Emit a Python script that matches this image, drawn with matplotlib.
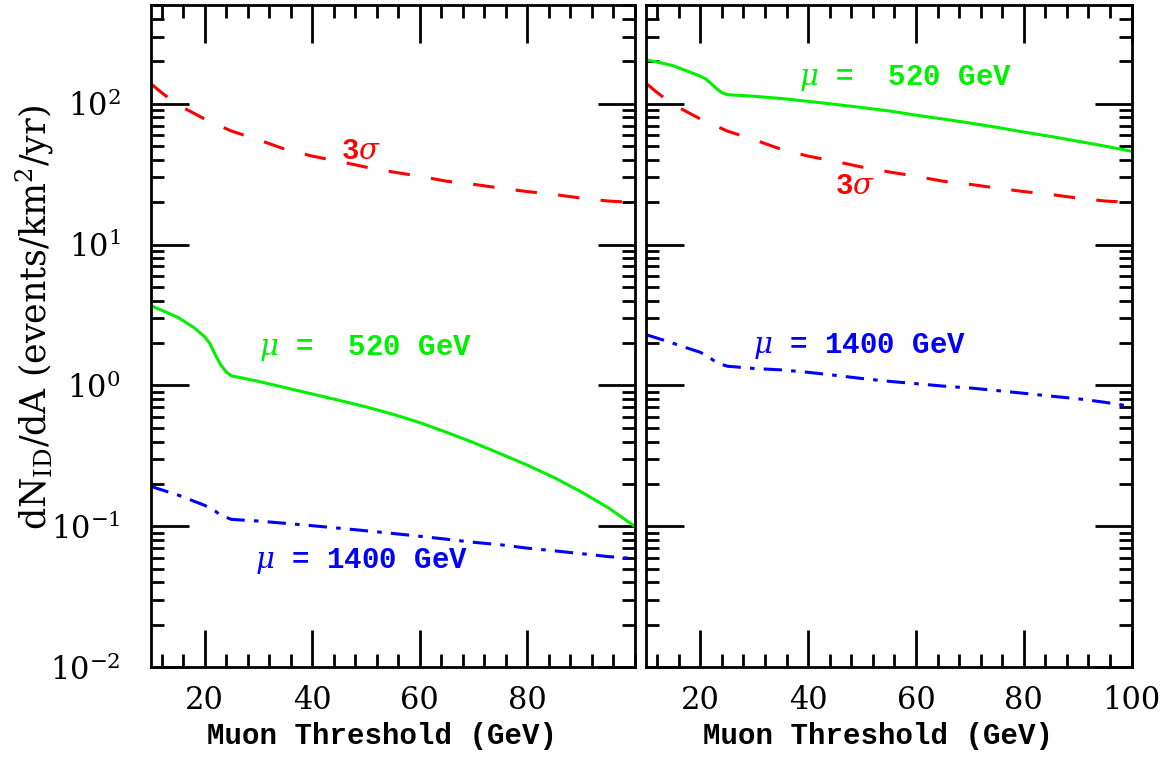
import numpy as np
import matplotlib
matplotlib.use('Agg')
import matplotlib.pyplot as plt
from matplotlib.ticker import MultipleLocator, LogLocator, NullFormatter

plt.rcParams['font.family'] = ['DejaVu Serif']
plt.rcParams['mathtext.fontset'] = 'dejavuserif'
plt.rcParams['mathtext.default'] = 'regular'

# 3 sigma line, same in both panels
x_sig = [10, 12, 14, 16, 20, 25, 30, 35, 40, 45, 50, 55, 60, 65, 70, 75, 80, 85, 90, 95, 100]
sig3 = [139, 120, 105, 94, 78, 64, 55.5, 47.5, 42.5, 39, 35.5, 32.8, 30.6, 28.2, 26.8, 25.2, 23.8, 22.7, 21.4, 20.4, 19.9]

# left panel
x_g = [10, 12, 15, 18, 20, 21, 22, 23, 24, 25, 30, 35, 40, 45, 50, 55, 60, 65, 70, 75, 80, 85, 90, 95, 100]
g520_left = [3.69, 3.42, 3.05, 2.58, 2.22, 1.98, 1.65, 1.4, 1.25, 1.17, 1.07, 0.965, 0.87, 0.785, 0.705, 0.625,
             0.545, 0.465, 0.393, 0.328, 0.272, 0.222, 0.176, 0.136, 0.10]
x_b = [10, 15, 20, 22, 23, 25, 30, 35, 40, 45, 50, 55, 60, 65, 70, 75, 80, 85, 90, 95, 100]
b1400_left = [0.192, 0.167, 0.141, 0.128, 0.120, 0.112, 0.109, 0.105, 0.101, 0.097, 0.093, 0.089,
              0.085, 0.081, 0.077, 0.074, 0.070, 0.067, 0.064, 0.061, 0.059]

# right panel
g520_right = [205, 198, 186, 168, 157, 150, 139, 128, 120, 116, 113, 109, 104, 99, 94, 89, 83, 78,
              73, 68, 63, 58.6, 54.2, 50.1, 46]
x_b2 = [10, 14, 18, 20, 22, 23, 25, 30, 35, 40, 45, 50, 55, 60, 65, 70, 75, 80, 85, 90, 95, 100]
b1400_right = [2.29, 2.05, 1.82, 1.72, 1.55, 1.45, 1.37, 1.32, 1.29, 1.24, 1.18, 1.12, 1.07, 1.03,
               0.99, 0.96, 0.92, 0.88, 0.84, 0.805, 0.76, 0.71]

RED = '#ff0000'
GREEN = '#00f000'
BLUE = '#0000ff'
lw = 2.2
dash = (0, (7, 7))
dashdot = (0, (6, 3, 1.5, 3))

fig = plt.figure(figsize=(11.69, 7.59), dpi=100)
ax1 = fig.add_axes([0.129, 0.121, 0.414, 0.872])
ax2 = fig.add_axes([0.553, 0.121, 0.415, 0.872], sharey=ax1)

ax1.plot(x_sig, sig3, color=RED, lw=lw, linestyle=dash)
ax1.plot(x_g, g520_left, color=GREEN, lw=lw)
ax1.plot(x_b, b1400_left, color=BLUE, lw=lw, linestyle=dashdot)

ax2.plot(x_sig, sig3, color=RED, lw=lw, linestyle=dash)
ax2.plot(x_g, g520_right, color=GREEN, lw=lw)
ax2.plot(x_b2, b1400_right, color=BLUE, lw=lw, linestyle=dashdot)

mono = ['Liberation Mono', 'DejaVu Sans Mono']
lab = dict(family=mono, fontweight='bold', fontsize=21, ha='center', va='center')
ax1.text(49, 46, r'3$\mathit{\sigma}$', color=RED, **lab)
ax1.text(50, 1.83, r'$\mathit{\mu}$ =  520 GeV', color=GREEN, **lab)
ax1.text(49.2, 0.057, r'$\mathit{\mu}$ = 1400 GeV', color=BLUE, **lab)
ax2.text(48.6, 26, r'3$\mathit{\sigma}$', color=RED, **lab)
ax2.text(58, 153, r'$\mathit{\mu}$ =  520 GeV', color=GREEN, **lab)
ax2.text(49.5, 1.92, r'$\mathit{\mu}$ = 1400 GeV', color=BLUE, **lab)

for ax in (ax1, ax2):
    ax.set_yscale('log')
    ax.set_ylim(0.01, 500)
    ax.set_xlim(10, 100)
    ax.xaxis.set_major_locator(MultipleLocator(20))
    ax.xaxis.set_minor_locator(MultipleLocator(4))
    ax.yaxis.set_major_locator(LogLocator(base=10, numticks=10))
    ax.yaxis.set_minor_locator(LogLocator(base=10, subs=np.arange(2, 10), numticks=10))
    ax.yaxis.set_minor_formatter(NullFormatter())
    ax.tick_params(which='both', direction='in', top=True, right=True, width=2, labelsize=22)
    ax.tick_params(which='major', length=27)
    ax.tick_params(which='minor', length=9.5)
    ax.tick_params(axis='x', which='major', pad=13)
    ax.tick_params(axis='y', which='major', pad=22)
    for s in ax.spines.values():
        s.set_linewidth(2)
    ax.set_xlabel('Muon Threshold (GeV)', family=mono, fontweight='bold', fontsize=21)
    ax.xaxis.set_label_coords(0.478, -0.083)

ax1.set_xticks([20, 40, 60, 80])
ax1.set_xlim(10, 100)
plt.setp(ax2.get_yticklabels(), visible=False)

fig.text(0.03, 0.581, r'dN$_{\rm ID}$/dA (events/km$^2$/yr)', rotation=90,
         ha='center', va='center', fontsize=25)

fig.savefig('out.png', dpi=100)
